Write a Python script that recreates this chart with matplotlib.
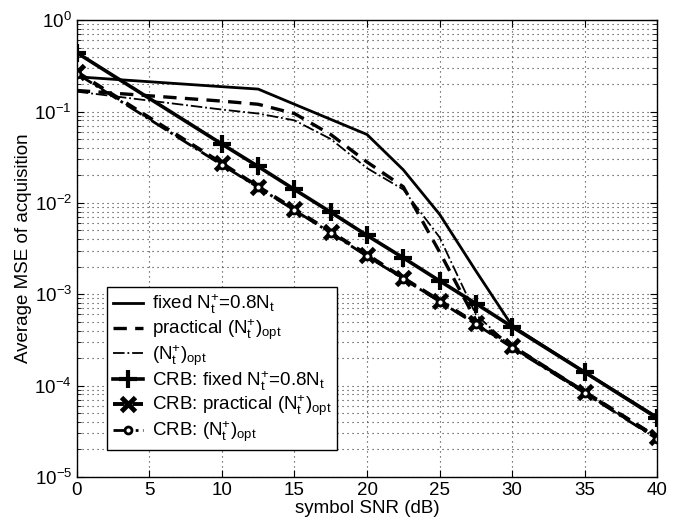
import matplotlib
matplotlib.use("Agg")
import matplotlib.pyplot as plt
from matplotlib.ticker import LogLocator, NullFormatter, MultipleLocator

plt.rcParams['font.family'] = ['Liberation Sans', 'DejaVu Sans']
plt.rcParams['mathtext.fontset'] = 'custom'
plt.rcParams['mathtext.rm'] = 'Liberation Sans'
plt.rcParams['mathtext.it'] = 'Liberation Sans'
plt.rcParams['mathtext.bf'] = 'Liberation Sans:bold'

snr = [0, 10, 12.5, 15, 17.5, 20, 22.5, 25, 27.5, 30, 35, 40]

fixed = [0.24, 0.187, 0.176, 0.12, 0.082, 0.056, 0.023, 0.0075, 0.0018, 0.00045, 0.00014, 0.000045]
practical = [0.17, 0.13, 0.12, 0.095, 0.056, 0.028, 0.015, 0.0029, 0.00052, 0.00027, 0.000085, 0.000027]
opt = [0.165, 0.105, 0.095, 0.08, 0.05, 0.024, 0.014, 0.0042, 0.0006, 0.00026, 0.000083, 0.000026]

crb_fixed = [0.44, 0.044, 0.025, 0.014, 0.0079, 0.0044, 0.0025, 0.0014, 0.00079, 0.00044, 0.00014, 0.000044]
crb_practical = [0.27, 0.027, 0.015, 0.0085, 0.0048, 0.0027, 0.0015, 0.00085, 0.00048, 0.00027, 0.000085, 0.000027]
crb_opt = [0.26, 0.026, 0.0148, 0.0083, 0.0047, 0.0026, 0.00148, 0.00083, 0.00047, 0.00026, 0.000083, 0.000026]

labels = [r'fixed $\mathrm{N_t^{+}}$=0.8$\mathrm{N_t}$',
          r'practical $\mathrm{(N_t^{+})_{opt}}$',
          r'$\mathrm{(N_t^{+})_{opt}}$',
          r'CRB: fixed $\mathrm{N_t^{+}}$=0.8$\mathrm{N_t}$',
          r'CRB: practical $\mathrm{(N_t^{+})_{opt}}$',
          r'CRB: $\mathrm{(N_t^{+})_{opt}}$']

fig = plt.figure(figsize=(6.86, 5.31), dpi=100)
ax = fig.add_axes([0.112, 0.102, 0.846, 0.860])

ax.semilogy(snr, fixed, '-', color='k', lw=2.0, label=labels[0])
ax.semilogy(snr, practical, '--', color='k', lw=2.4, dashes=(4, 2.5), label=labels[1])
ax.semilogy(snr, opt, '-.', color='k', lw=1.3, label=labels[2])
ax.semilogy(snr, crb_fixed, '-', color='k', lw=2.6, marker='+', ms=13, mew=3, label=labels[3])
ax.semilogy(snr, crb_practical, '--', color='k', lw=2.8, dashes=(3, 2), marker='x', ms=10, mew=3.5, label=labels[4])
ax.semilogy(snr, crb_opt, '-.', color='k', lw=2.0, marker='o', ms=5, mew=2, mfc='white', label=labels[5])

ax.set_xlim(0, 40)
ax.set_ylim(1e-5, 1)
ax.xaxis.set_major_locator(MultipleLocator(5))
ax.yaxis.set_major_locator(LogLocator(base=10, numticks=10))
ax.yaxis.set_minor_locator(LogLocator(base=10, subs=range(2, 10), numticks=20))
ax.yaxis.set_minor_formatter(NullFormatter())

gstyle = dict(ls=(0, (1, 3.5)), color='#333333', lw=0.8)
ax.grid(True, which='major', axis='both', **gstyle)
ax.grid(True, which='minor', axis='y', **gstyle)

ax.tick_params(which='both', direction='in', top=True, right=True)
ax.tick_params(which='major', length=5, labelsize=13.5)
ax.tick_params(which='minor', length=3)
for s in ax.spines.values():
    s.set_linewidth(1.0)

ax.set_xlabel('symbol SNR (dB)', fontsize=13.5, labelpad=1)
ax.set_ylabel('Average MSE of acquisition', fontsize=13.5, labelpad=2)

leg = ax.legend(loc='lower left', bbox_to_anchor=(0.052, 0.059), borderaxespad=0,
                fontsize=13.5, handlelength=1.6, fancybox=False, framealpha=1,
                edgecolor='k', labelspacing=0.05, handletextpad=0.5, borderpad=0.3)
leg.get_frame().set_linewidth(1.0)

fig.savefig('out.png', dpi=100)
